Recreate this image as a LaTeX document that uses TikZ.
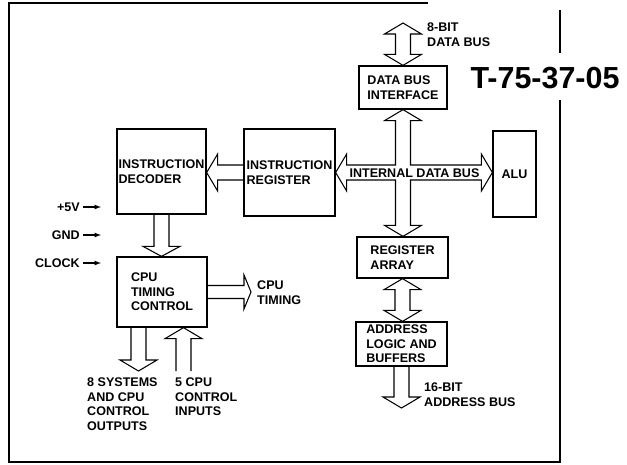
\documentclass[tikz,border=0pt]{standalone}
\usepackage{fontspec}
\setmainfont{Liberation Sans}
\usetikzlibrary{calc}
\newcommand{\labelfont}{\fontsize{10.7}{12.4}\selectfont\bfseries}
\newcommand{\busw}{7.5}
\newcommand{\bush}{18.5}
\newcommand{\busl}{11}
% one-way bus, vertical: tail, tip, head offset
\newcommand{\vbus}[3]{%
  \draw[bus] ($(#1)+(-\busw,0)$) -- ($(#1 |- #2)+(-\busw,#3)$) -- ($(#1 |- #2)+(-\bush,#3)$)
    -- (#1 |- #2) -- ($(#1 |- #2)+(\bush,#3)$) -- ($(#1 |- #2)+(\busw,#3)$) -- ($(#1)+(\busw,0)$);}
% one-way bus, horizontal: tail, tip, head offset
\newcommand{\hbus}[3]{%
  \draw[bus] ($(#1)+(0,-\busw)$) -- ($(#2 |- #1)+(#3,-\busw)$) -- ($(#2 |- #1)+(#3,-\bush)$)
    -- (#2 |- #1) -- ($(#2 |- #1)+(#3,\bush)$) -- ($(#2 |- #1)+(#3,\busw)$) -- ($(#1)+(0,\busw)$);}
% two-way bus, vertical: upper tip, lower tip
\newcommand{\vdbus}[2]{%
  \draw[bus] (#1) -- ($(#1)+(\bush,\busl)$) -- ($(#1)+(\busw,\busl)$) -- ($(#1 |- #2)+(\busw,-\busl)$)
    -- ($(#1 |- #2)+(\bush,-\busl)$) -- (#1 |- #2) -- ($(#1 |- #2)+(-\bush,-\busl)$)
    -- ($(#1 |- #2)+(-\busw,-\busl)$) -- ($(#1)+(-\busw,\busl)$) -- ($(#1)+(-\bush,\busl)$) -- cycle;}
\tikzset{
  block/.style 2 args={draw, line width=1.1pt, inner sep=0pt, align=left, font=\labelfont,
    minimum width=#1*0.03cm, minimum height=#2*0.03cm},
  bus/.style={line width=0.9pt, line join=miter},
  lbl/.style={inner sep=0pt, align=left, font=\labelfont},
  sig/.style={-latex, line width=0.9pt, shorten <=0.1cm},
  frame/.style={line width=1.4pt}
}
\begin{document}
\begin{tikzpicture}[x=0.03cm, y=-0.03cm]
\useasboundingbox (0,0) rectangle (627,464);
% frame and tag
\draw[frame] (428,3) -- (9,3) -- (9,462) -- (560,462) -- (560,100);
\draw[frame] (560,53) -- (560,10);
\node[inner sep=0pt, font=\fontsize{26}{30}\selectfont\bfseries] (tag) at (545,78) {T-75-37-05};

% blocks
\node[block={88}{43}] (dbi) at (403,87.5) {DATA BUS\\INTERFACE};
\node[block={89}{85}] (dec) at (161.5,171.5) {INSTRUCTION\\DECODER};
\node[block={91}{87}] (reg) at (289.5,172.5) {INSTRUCTION\\REGISTER};
\node[block={43}{86}] (alu) at (514.5,174) {ALU};
\node[block={91}{41}] (rega) at (402.5,257.5) {REGISTER\\ARRAY};
\node[block={91}{44}] (addr) at (401.5,344) {ADDRESS\\LOGIC AND\\BUFFERS};
\node[block={90}{70}] (tim) at (162,292) {CPU\\TIMING\\CONTROL};

% free ends
\coordinate (dtop) at (403,23);
\coordinate (cput) at (251,292);
\coordinate (outtop) at ($(tim.south)+(-23.5,0)$);
\coordinate (outend) at (138.5,371);
\coordinate (inbot) at (183.5,371);
\coordinate (abus) at (401.5,408);
\coordinate (hub) at (dbi.south |- reg.east);

% buses
\vdbus{dtop}{dbi.north}
\hbus{reg.west}{dec.east}{11}
\vbus{dec.south}{tim.north}{-10}
{\renewcommand{\busw}{6.5}\renewcommand{\bush}{17}\hbus{tim.east}{cput}{-7}}
\vbus{outtop}{outend}{-11}
\vbus{inbot}{tim.south}{11}
\vdbus{rega.south}{addr.north}
\vbus{addr.south}{abus}{-11}
\draw[bus] (reg.east) -- ($(reg.east)+(\busl,-\bush)$) -- ($(reg.east)+(\busl,-\busw)$)
  -- ($(hub)+(-\busw,-\busw)$) -- ($(dbi.south)+(-\busw,\busl)$) -- ($(dbi.south)+(-\bush,\busl)$)
  -- (dbi.south) -- ($(dbi.south)+(\bush,\busl)$) -- ($(dbi.south)+(\busw,\busl)$)
  -- ($(hub)+(\busw,-\busw)$) -- ($(alu.west |- hub)+(-\busl,-\busw)$) -- ($(alu.west |- hub)+(-\busl,-\bush)$)
  -- (alu.west |- hub) -- ($(alu.west |- hub)+(-\busl,\bush)$) -- ($(alu.west |- hub)+(-\busl,\busw)$)
  -- ($(hub)+(\busw,\busw)$) -- ($(hub |- rega.north)+(\busw,-\busl)$) -- ($(hub |- rega.north)+(\bush,-\busl)$)
  -- (hub |- rega.north) -- ($(hub |- rega.north)+(-\bush,-\busl)$) -- ($(hub |- rega.north)+(-\busw,-\busl)$)
  -- ($(hub)+(-\busw,\busw)$) -- ($(reg.east)+(\busl,\busw)$) -- ($(reg.east)+(\busl,\bush)$) -- cycle;
\node[lbl] (ibus) at (414.5,173) {INTERNAL DATA BUS};

% labels
\node[lbl, anchor=west] (dbus) at (427,34.5) {8-BIT\\DATA BUS};
\node[lbl, anchor=west] (ctim) at (257,292.5) {CPU\\TIMING};
\node[lbl, anchor=west] (sysout) at (87,404) {8 SYSTEMS\\AND CPU\\CONTROL\\OUTPUTS};
\node[lbl, anchor=west] (ctlin) at (175,397) {5 CPU\\CONTROL\\INPUTS};
\node[lbl, anchor=west] (abuslbl) at (424,394.5) {16-BIT\\ADDRESS BUS};

% supply and clock
\node[lbl, anchor=east] (pfive) at (80,207) {+5V};
\node[lbl, anchor=east] (gnd) at (80,235) {GND};
\node[lbl, anchor=east] (clk) at (80,263) {CLOCK};
\coordinate (pfiveend) at (101,207);
\coordinate (gndend) at (101,235);
\coordinate (clkend) at (101,263);
\draw[sig] (pfive) -- (pfiveend);
\draw[sig] (gnd) -- (gndend);
\draw[sig] (clk) -- (clkend);
\end{tikzpicture}
\end{document}
